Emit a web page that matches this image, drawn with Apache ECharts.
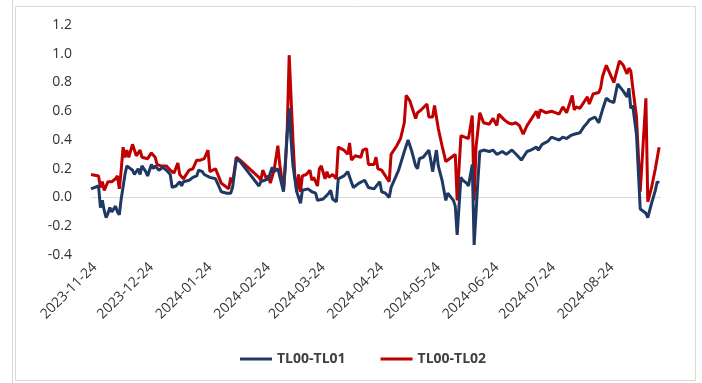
<!DOCTYPE html>
<html>
<head>
<meta charset="utf-8">
<script src="https://cdn.jsdelivr.net/npm/echarts@6/dist/echarts.min.js"></script>
<style>
  html, body { margin: 0; padding: 0; background: #ffffff; }
  #chart { width: 702px; height: 383px; }
</style>
</head>
<body>
<div id="chart"></div>
<script>
// Spread series: TL00-TL01
const tl01Dates = [
  '2023-11-22','2023-11-26','2023-11-27','2023-11-28','2023-11-29','2023-11-30','2023-12-01','2023-12-02','2023-12-03','2023-12-05',
  '2023-12-06','2023-12-07','2023-12-08','2023-12-10','2023-12-11','2023-12-12','2023-12-14','2023-12-15','2023-12-17','2023-12-18',
  '2023-12-19','2023-12-21','2023-12-22','2023-12-24','2023-12-25','2023-12-26','2023-12-28','2023-12-30','2024-01-01','2024-01-03',
  '2024-01-04','2024-01-06','2024-01-08','2024-01-09','2024-01-10','2024-01-13','2024-01-15','2024-01-17','2024-01-18','2024-01-20',
  '2024-01-21','2024-01-24','2024-01-27','2024-01-28','2024-01-30','2024-02-02','2024-02-04','2024-02-05','2024-02-07','2024-02-09',
  '2024-02-19','2024-02-20','2024-02-22','2024-02-24','2024-02-26','2024-02-27','2024-02-29','2024-03-03','2024-03-05','2024-03-06',
  '2024-03-07','2024-03-08','2024-03-10','2024-03-12','2024-03-13','2024-03-16','2024-03-18','2024-03-20','2024-03-21','2024-03-24',
  '2024-03-27','2024-03-28','2024-03-29','2024-03-31','2024-04-01','2024-04-04','2024-04-06','2024-04-07','2024-04-09','2024-04-12',
  '2024-04-13','2024-04-15','2024-04-17','2024-04-20','2024-04-21','2024-04-23','2024-04-24','2024-04-26','2024-04-28','2024-04-29',
  '2024-05-03','2024-05-06','2024-05-08','2024-05-10','2024-05-12','2024-05-13','2024-05-14','2024-05-16','2024-05-19','2024-05-20',
  '2024-05-21','2024-05-23','2024-05-24','2024-05-26','2024-05-28','2024-05-29','2024-06-01','2024-06-02','2024-06-03','2024-06-05',
  '2024-06-06','2024-06-08','2024-06-09','2024-06-11','2024-06-12','2024-06-14','2024-06-15','2024-06-17','2024-06-20','2024-06-22',
  '2024-06-24','2024-06-27','2024-06-29','2024-07-02','2024-07-05','2024-07-07','2024-07-10','2024-07-12','2024-07-15','2024-07-16',
  '2024-07-18','2024-07-21','2024-07-23','2024-07-25','2024-07-27','2024-07-29','2024-07-31','2024-08-02','2024-08-04','2024-08-05',
  '2024-08-07','2024-08-09','2024-08-11','2024-08-12','2024-08-15','2024-08-17','2024-08-19','2024-08-21','2024-08-23','2024-08-25',
  '2024-08-27','2024-08-30','2024-09-01','2024-09-02','2024-09-03','2024-09-04','2024-09-06','2024-09-08','2024-09-11','2024-09-12',
  '2024-09-14','2024-09-16','2024-09-17','2024-09-18'
];
const tl01Values = [
  0.06, 0.08, -0.07, -0.02, -0.09, -0.14, -0.11, -0.07, -0.10, -0.06,
  -0.10, -0.12, -0.01, 0.16, 0.22, 0.21, 0.19, 0.16, 0.20, 0.16,
  0.22, 0.18, 0.15, 0.23, 0.20, 0.22, 0.19, 0.21, 0.19, 0.16,
  0.07, 0.08, 0.11, 0.08, 0.11, 0.12, 0.14, 0.15, 0.19, 0.18,
  0.16, 0.14, 0.13, 0.10, 0.04, 0.03, 0.03, 0.07, 0.27, 0.25,
  0.08, 0.11, 0.12, 0.13, 0.21, 0.18, 0.20, 0.04, 0.45, 0.62,
  0.40, 0.22, 0.04, -0.04, 0.05, 0.06, 0.04, 0.03, -0.02, -0.01,
  0.03, 0.05, -0.01, -0.03, 0.13, 0.15, 0.18, 0.18, 0.07, 0.10,
  0.11, 0.12, 0.07, 0.06, 0.05, 0.11, 0.04, 0.03, 0.00, 0.07,
  0.19, 0.32, 0.40, 0.32, 0.22, 0.20, 0.27, 0.28, 0.33, 0.26,
  0.18, 0.33, 0.22, 0.12, -0.02, 0.03, -0.02, -0.06, -0.26, 0.14,
  0.12, 0.10, 0.08, 0.23, -0.33, 0.12, 0.32, 0.33, 0.32, 0.33,
  0.30, 0.32, 0.30, 0.33, 0.29, 0.26, 0.32, 0.33, 0.35, 0.33,
  0.37, 0.39, 0.42, 0.41, 0.40, 0.42, 0.41, 0.43, 0.44, 0.44,
  0.45, 0.49, 0.52, 0.54, 0.56, 0.52, 0.61, 0.69, 0.67, 0.66,
  0.79, 0.74, 0.70, 0.76, 0.62, 0.64, 0.44, -0.08, -0.11, -0.14,
  -0.04, 0.05, 0.11, 0.10
];

// Spread series: TL00-TL02
const tl02Dates = [
  '2023-11-22','2023-11-26','2023-11-27','2023-11-28','2023-11-29','2023-11-30','2023-12-01','2023-12-03','2023-12-05','2023-12-06',
  '2023-12-07','2023-12-08','2023-12-09','2023-12-10','2023-12-11','2023-12-12','2023-12-14','2023-12-15','2023-12-16','2023-12-18',
  '2023-12-19','2023-12-20','2023-12-22','2023-12-24','2023-12-26','2023-12-27','2023-12-29','2024-01-01','2024-01-03','2024-01-05',
  '2024-01-07','2024-01-08','2024-01-10','2024-01-11','2024-01-13','2024-01-15','2024-01-17','2024-01-19','2024-01-21','2024-01-23',
  '2024-01-24','2024-01-27','2024-01-28','2024-01-30','2024-02-01','2024-02-03','2024-02-04','2024-02-05','2024-02-07','2024-02-09',
  '2024-02-19','2024-02-20','2024-02-21','2024-02-23','2024-02-24','2024-02-25','2024-02-26','2024-02-27','2024-02-29','2024-03-01',
  '2024-03-03','2024-03-04','2024-03-05','2024-03-06','2024-03-08','2024-03-09','2024-03-10','2024-03-11','2024-03-12','2024-03-13',
  '2024-03-15','2024-03-17','2024-03-18','2024-03-19','2024-03-21','2024-03-22','2024-03-23','2024-03-25','2024-03-26','2024-03-27',
  '2024-03-29','2024-03-31','2024-04-01','2024-04-04','2024-04-06','2024-04-07','2024-04-08','2024-04-10','2024-04-13','2024-04-14',
  '2024-04-16','2024-04-17','2024-04-20','2024-04-21','2024-04-22','2024-04-24','2024-04-27','2024-04-28','2024-04-29','2024-05-02',
  '2024-05-04','2024-05-06','2024-05-07','2024-05-09','2024-05-12','2024-05-13','2024-05-15','2024-05-18','2024-05-19','2024-05-21',
  '2024-05-22','2024-05-24','2024-05-26','2024-05-28','2024-05-29','2024-05-31','2024-06-02','2024-06-03','2024-06-05','2024-06-07',
  '2024-06-09','2024-06-11','2024-06-12','2024-06-13','2024-06-15','2024-06-17','2024-06-20','2024-06-22','2024-06-24','2024-06-25',
  '2024-06-28','2024-06-30','2024-07-02','2024-07-04','2024-07-06','2024-07-08','2024-07-10','2024-07-12','2024-07-15','2024-07-16',
  '2024-07-17','2024-07-20','2024-07-21','2024-07-23','2024-07-25','2024-07-27','2024-07-29','2024-07-31','2024-08-01','2024-08-03',
  '2024-08-04','2024-08-05','2024-08-07','2024-08-09','2024-08-11','2024-08-12','2024-08-14','2024-08-17','2024-08-18','2024-08-19',
  '2024-08-21','2024-08-23','2024-08-25','2024-08-26','2024-08-28','2024-08-30','2024-09-01','2024-09-02','2024-09-03','2024-09-04',
  '2024-09-06','2024-09-08','2024-09-11','2024-09-12','2024-09-14','2024-09-16','2024-09-18'
];
const tl02Values = [
  0.16, 0.15, 0.07, 0.11, 0.05, 0.08, 0.11, 0.11, 0.13, 0.15,
  0.06, 0.19, 0.35, 0.28, 0.33, 0.28, 0.37, 0.33, 0.29, 0.33,
  0.28, 0.29, 0.27, 0.31, 0.28, 0.23, 0.22, 0.22, 0.19, 0.17,
  0.24, 0.16, 0.13, 0.15, 0.19, 0.20, 0.26, 0.26, 0.27, 0.33,
  0.18, 0.20, 0.21, 0.10, 0.08, 0.06, 0.14, 0.10, 0.28, 0.26,
  0.14, 0.12, 0.19, 0.13, 0.15, 0.10, 0.10, 0.19, 0.36, 0.23,
  0.05, 0.23, 0.49, 0.99, 0.40, 0.15, 0.04, 0.16, 0.04, 0.15,
  0.16, 0.19, 0.12, 0.14, 0.08, 0.20, 0.22, 0.13, 0.18, 0.14,
  0.16, 0.13, 0.35, 0.33, 0.30, 0.38, 0.26, 0.29, 0.28, 0.33,
  0.34, 0.23, 0.23, 0.28, 0.20, 0.19, 0.13, 0.11, 0.30, 0.36,
  0.41, 0.52, 0.71, 0.67, 0.55, 0.59, 0.61, 0.65, 0.56, 0.56,
  0.64, 0.48, 0.36, 0.25, 0.26, 0.28, 0.30, -0.02, 0.43, 0.42,
  0.41, 0.57, -0.02, 0.35, 0.59, 0.52, 0.51, 0.55, 0.50, 0.58,
  0.54, 0.52, 0.51, 0.52, 0.50, 0.44, 0.50, 0.54, 0.60, 0.55,
  0.61, 0.59, 0.58, 0.60, 0.59, 0.58, 0.63, 0.59, 0.63, 0.71,
  0.61, 0.63, 0.62, 0.66, 0.70, 0.65, 0.72, 0.73, 0.76, 0.84,
  0.92, 0.86, 0.80, 0.80, 0.95, 0.92, 0.86, 0.90, 0.88, 0.77,
  0.56, 0.04, 0.69, -0.03, 0.07, 0.20, 0.35
];

const seriesNames = ['TL00-TL01', 'TL00-TL02'];
const seriesColors = ['#203864', '#C00000'];

// Date axis range and the monthly label dates
const axisStart = '2023-11-22';
const axisEnd = '2024-09-19';
const tickDates = [
  '2023-11-24','2023-12-24','2024-01-24','2024-02-24','2024-03-24',
  '2024-04-24','2024-05-24','2024-06-24','2024-07-24','2024-08-24'
];

// Value axis
const yMin = -0.4, yMax = 1.2, yStep = 0.2;

// Dates are placed on a plain numeric axis (UTC milliseconds)
function toTime(s) {
  const p = s.split('-').map(Number);
  return Date.UTC(p[0], p[1] - 1, p[2]);
}
function fmtDate(t) {
  const d = new Date(t);
  const mm = String(d.getUTCMonth() + 1).padStart(2, '0');
  const dd = String(d.getUTCDate()).padStart(2, '0');
  return d.getUTCFullYear() + '-' + mm + '-' + dd;
}
function pairs(dates, values) {
  return dates.map((d, i) => [toTime(d), values[i]]);
}

const FONT = '"Open Sans", "Liberation Sans", sans-serif';
const chart = echarts.init(document.getElementById('chart'), null, { renderer: 'canvas' });

chart.setOption({
  animation: false,
  backgroundColor: '#ffffff',
  graphic: [
    { type: 'line', shape: { x1: 12.5, y1: 0, x2: 12.5, y2: 383 }, style: { stroke: '#d9d9d9', lineWidth: 1 }, silent: true },
    { type: 'rect', shape: { x: 15.5, y: 6.5, width: 680, height: 374 }, style: { fill: 'none', stroke: '#d9d9d9', lineWidth: 1 }, silent: true }
  ],
  grid: { left: 91, right: 41, top: 25, bottom: 128, containLabel: false },
  legend: {
    data: seriesNames.map((n) => ({ name: n, icon: 'rect' })),
    left: 235,
    top: 347,
    itemWidth: 32,
    itemHeight: 3,
    itemGap: 35,
    textStyle: { fontFamily: FONT, fontSize: 14, fontWeight: 'bold', color: '#404040' }
  },
  xAxis: {
    type: 'value',
    min: toTime(axisStart),
    max: toTime(axisEnd),
    axisLine: { show: false },
    axisTick: { show: false },
    splitLine: { show: false },
    axisLabel: {
      customValues: tickDates.map(toTime),
      rotate: 45,
      margin: 10,
      hideOverlap: false,
      showMinLabel: true,
      showMaxLabel: true,
      fontFamily: FONT,
      fontSize: 14,
      color: '#333333',
      formatter: (v) => fmtDate(v)
    }
  },
  yAxis: {
    type: 'value',
    min: yMin,
    max: yMax,
    interval: yStep,
    axisLine: { show: false },
    axisTick: { show: false },
    splitLine: { show: false },
    axisLabel: {
      margin: 19,
      fontFamily: FONT,
      fontSize: 14,
      color: '#333333',
      formatter: (v) => v.toFixed(1)
    }
  },
  series: [
    {
      name: seriesNames[0],
      type: 'line',
      symbol: 'none',
      data: pairs(tl01Dates, tl01Values),
      color: seriesColors[0],
      lineStyle: { width: 3, color: seriesColors[0] },
      z: 3,
      markLine: {
        silent: true,
        symbol: 'none',
        label: { show: false },
        lineStyle: { color: '#d9d9d9', width: 1, type: 'solid' },
        data: [{ yAxis: 0 }],
        z: 1
      }
    },
    {
      name: seriesNames[1],
      type: 'line',
      symbol: 'none',
      data: pairs(tl02Dates, tl02Values),
      color: seriesColors[1],
      lineStyle: { width: 3, color: seriesColors[1] },
      z: 2
    }
  ]
});
</script>
</body>
</html>
